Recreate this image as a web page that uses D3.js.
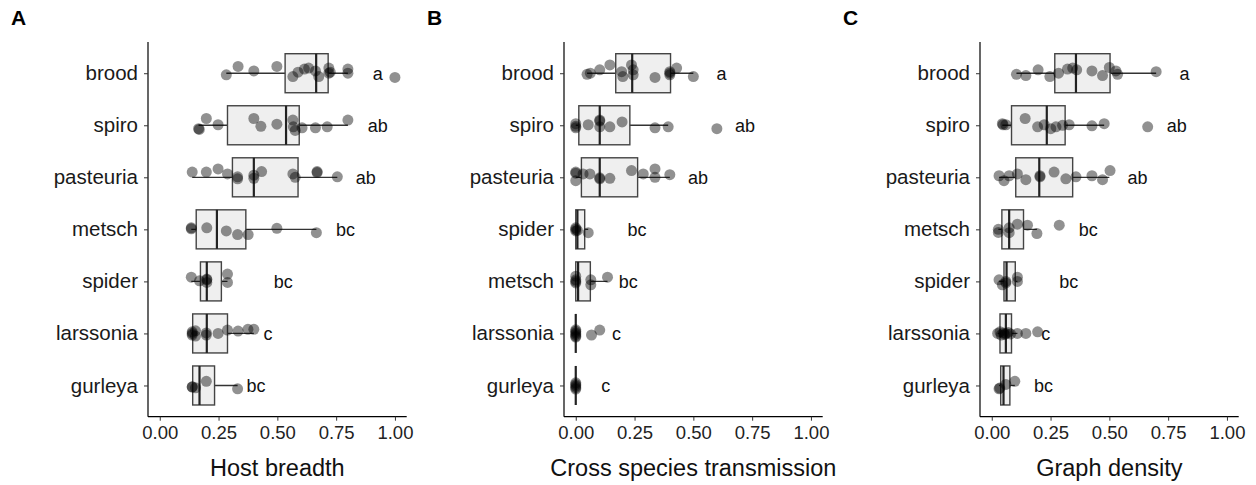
<!DOCTYPE html>
<html>
<head>
<meta charset="utf-8">
<script src="https://cdn.jsdelivr.net/npm/d3@7"></script>
<style>
body{margin:0;background:#fff;}
text{font-family:"Liberation Sans",Arial,Helvetica,sans-serif;}
</style>
</head>
<body>
<script>
var W = 1256, H = 485;

// category order per panel (top to bottom)
var catsA = ["brood","spiro","pasteuria","metsch","spider","larssonia","gurleya"];
var catsB = ["brood","spiro","pasteuria","spider","metsch","larssonia","gurleya"];
var catsC = ["brood","spiro","pasteuria","metsch","spider","larssonia","gurleya"];

var xTicks = [0, 0.25, 0.5, 0.75, 1];

// points: [category, value, vertical jitter (category units)]
var pointsA = [
 ["brood",0.283,0.03],["brood",0.333,-0.13],["brood",0.40,-0.045],["brood",0.498,-0.13],["brood",0.566,0.065],
 ["brood",0.588,-0.02],["brood",0.615,-0.08],["brood",0.633,-0.1],["brood",0.662,-0.045],["brood",0.676,0.065],
 ["brood",0.719,-0.1],["brood",0.719,0],["brood",0.725,-0.02],["brood",0.80,-0.08],["brood",0.80,0],["brood",1.0,0.08],
 ["spiro",0.165,0.065],["spiro",0.168,0.08],["spiro",0.198,-0.13],["spiro",0.248,-0.01],["spiro",0.40,-0.13],
 ["spiro",0.43,0.02],["spiro",0.498,-0.02],["spiro",0.566,-0.1],["spiro",0.568,0.03],["spiro",0.576,0.1],
 ["spiro",0.605,0.05],["spiro",0.662,0.05],["spiro",0.712,0.03],["spiro",0.80,-0.1],
 ["pasteuria",0.138,-0.1],["pasteuria",0.198,-0.1],["pasteuria",0.248,-0.16],["pasteuria",0.288,-0.065],
 ["pasteuria",0.331,0.03],["pasteuria",0.331,-0.01],["pasteuria",0.40,0.02],["pasteuria",0.40,-0.04],
 ["pasteuria",0.433,-0.11],["pasteuria",0.566,-0.065],["pasteuria",0.576,0],["pasteuria",0.669,-0.11],
 ["pasteuria",0.669,-0.09],["pasteuria",0.755,-0.01],
 ["metsch",0.134,-0.03],["metsch",0.134,-0.01],["metsch",0.20,-0.03],["metsch",0.283,0.03],["metsch",0.331,0.1],
 ["metsch",0.376,0.1],["metsch",0.498,-0.02],["metsch",0.666,0.065],
 ["spider",0.134,-0.08],["spider",0.169,-0.01],["spider",0.20,-0.045],["spider",0.20,-0.03],["spider",0.20,0.02],
 ["spider",0.288,-0.14],["spider",0.288,0.02],
 ["larssonia",0.138,-0.03],["larssonia",0.138,0],["larssonia",0.138,0.03],["larssonia",0.152,-0.05],
 ["larssonia",0.152,0.05],["larssonia",0.198,-0.01],["larssonia",0.198,0.03],["larssonia",0.248,0],
 ["larssonia",0.288,-0.065],["larssonia",0.333,-0.045],["larssonia",0.375,-0.08],["larssonia",0.40,-0.08],
 ["gurleya",0.138,0.025],["gurleya",0.138,0.03],["gurleya",0.152,0.045],["gurleya",0.198,-0.08],["gurleya",0.331,0.065]
];
var pointsB = [
 ["brood",0.048,0.02],["brood",0.062,0],["brood",0.102,-0.065],["brood",0.145,-0.16],["brood",0.195,-0.03],
 ["brood",0.20,0.065],["brood",0.237,-0.16],["brood",0.244,0.03],["brood",0.244,-0.065],["brood",0.337,0.08],
 ["brood",0.40,-0.03],["brood",0.40,0],["brood",0.40,0.03],["brood",0.429,-0.1],["brood",0.50,0.065],
 ["spiro",0.0,0.05],["spiro",0.0,0.02],["spiro",0.0,-0.03],["spiro",0.053,-0.01],["spiro",0.102,-0.1],
 ["spiro",0.102,-0.08],["spiro",0.102,0.03],["spiro",0.145,0.03],["spiro",0.197,-0.065],["spiro",0.337,0.05],
 ["spiro",0.393,0.03],["spiro",0.60,0.065],
 ["pasteuria",0.0,-0.1],["pasteuria",0.0,-0.08],["pasteuria",0.0,0.065],["pasteuria",0.031,-0.065],
 ["pasteuria",0.06,-0.065],["pasteuria",0.102,0.03],["pasteuria",0.102,0.01],["pasteuria",0.145,0.02],
 ["pasteuria",0.237,-0.13],["pasteuria",0.287,-0.065],["pasteuria",0.337,-0.16],["pasteuria",0.337,0],
 ["pasteuria",0.40,-0.05],
 ["spider",0.0,-0.03],["spider",0.0,0],["spider",0.0,0.03],["spider",0.007,0.02],["spider",0.053,0.065],
 ["metsch",0.0,-0.1],["metsch",0.0,-0.03],["metsch",0.0,0.03],["metsch",0.0,0],["metsch",0.064,-0.03],
 ["metsch",0.064,0.065],["metsch",0.135,-0.08],
 ["larssonia",0.0,-0.07],["larssonia",0.0,-0.04],["larssonia",0.0,-0.01],["larssonia",0.0,0.02],
 ["larssonia",0.0,0.05],["larssonia",0.0,0.07],["larssonia",0.067,0.03],["larssonia",0.102,-0.065],
 ["gurleya",0.0,-0.05],["gurleya",0.0,-0.02],["gurleya",0.0,0.01],["gurleya",0.0,0.04],["gurleya",0.0,0.07]
];
var pointsC = [
 ["brood",0.105,0.02],["brood",0.145,0.045],["brood",0.197,-0.065],["brood",0.247,0.065],["brood",0.284,0],
 ["brood",0.322,-0.08],["brood",0.344,-0.1],["brood",0.361,-0.065],["brood",0.426,-0.045],["brood",0.471,0.045],
 ["brood",0.50,-0.11],["brood",0.528,-0.045],["brood",0.535,0.02],["brood",0.699,-0.03],
 ["spiro",0.045,-0.03],["spiro",0.048,-0.01],["spiro",0.06,-0.01],["spiro",0.142,-0.13],["spiro",0.195,0.03],
 ["spiro",0.223,-0.01],["spiro",0.251,0.065],["spiro",0.273,0.03],["spiro",0.301,0],["spiro",0.329,-0.01],
 ["spiro",0.426,0.01],["spiro",0.478,-0.03],["spiro",0.663,0.03],
 ["pasteuria",0.031,-0.03],["pasteuria",0.052,0.065],["pasteuria",0.074,-0.03],["pasteuria",0.109,-0.065],
 ["pasteuria",0.145,0.045],["pasteuria",0.205,-0.03],["pasteuria",0.205,-0.01],["pasteuria",0.265,-0.1],
 ["pasteuria",0.315,0.03],["pasteuria",0.358,-0.01],["pasteuria",0.426,-0.03],["pasteuria",0.471,0.045],
 ["pasteuria",0.503,-0.13],
 ["metsch",0.028,0],["metsch",0.028,0.06],["metsch",0.074,-0.03],["metsch",0.074,0.065],["metsch",0.109,-0.1],
 ["metsch",0.152,-0.08],["metsch",0.192,0.08],["metsch",0.287,-0.08],
 ["spider",0.031,-0.03],["spider",0.045,0.065],["spider",0.06,0.03],["spider",0.06,0],["spider",0.109,-0.08],
 ["spider",0.109,0],
 ["larssonia",0.025,0],["larssonia",0.035,-0.03],["larssonia",0.04,0.03],["larssonia",0.05,-0.01],
 ["larssonia",0.055,0.02],["larssonia",0.06,0],["larssonia",0.07,-0.02],["larssonia",0.08,0.01],
 ["larssonia",0.109,0],["larssonia",0.145,0],["larssonia",0.195,-0.03],
 ["gurleya",0.031,0.065],["gurleya",0.034,0.05],["gurleya",0.06,-0.02],["gurleya",0.098,-0.08]
];

// boxes: [category, lower whisker, q1, median, q3, upper whisker]
var boxesA = [
 ["brood",0.283,0.533,0.665,0.716,0.80],["spiro",0.165,0.288,0.537,0.593,0.80],
 ["pasteuria",0.138,0.309,0.40,0.588,0.755],["metsch",0.134,0.155,0.243,0.366,0.666],
 ["spider",0.134,0.173,0.20,0.262,0.288],["larssonia",0.138,0.14,0.20,0.288,0.40],
 ["gurleya",0.138,0.14,0.169,0.233,0.331]
];
var boxesB = [
 ["brood",0.048,0.17,0.24,0.403,0.50],["spiro",0.0,0.013,0.102,0.23,0.393],
 ["pasteuria",0.0,0.024,0.102,0.263,0.40],["spider",0.0,0.0,0.007,0.038,0.053],
 ["metsch",0.0,0.0,0.01,0.062,0.135],["larssonia",0,0,0,0,0],["gurleya",0,0,0,0,0]
];
var boxesC = [
 ["brood",0.105,0.268,0.358,0.503,0.699],["spiro",0.045,0.084,0.234,0.312,0.478],
 ["pasteuria",0.031,0.102,0.202,0.344,0.50],["metsch",0.028,0.043,0.074,0.135,0.192],
 ["spider",0.031,0.052,0.063,0.10,0.109],["larssonia",0.025,0.035,0.06,0.084,0.109],
 ["gurleya",0.031,0.038,0.05,0.077,0.098]
];

// significance letters: [category, letter, x position]
var lettersA = [["brood","a",0.927],["spiro","ab",0.927],["pasteuria","ab",0.876],["metsch","bc",0.79],
 ["spider","bc",0.525],["larssonia","c",0.46],["gurleya","bc",0.409]];
var lettersB = [["brood","a",0.62],["spiro","ab",0.72],["pasteuria","ab",0.52],["spider","bc",0.26],
 ["metsch","bc",0.223],["larssonia","c",0.173],["gurleya","c",0.127]];
var lettersC = [["brood","a",0.82],["spiro","ab",0.787],["pasteuria","ab",0.62],["metsch","bc",0.41],
 ["spider","bc",0.327],["larssonia","c",0.23],["gurleya","bc",0.22]];

var panels = [
 {tag:"A", title:"Host breadth", cats:catsA, pts:pointsA, boxes:boxesA, letters:lettersA},
 {tag:"B", title:"Cross species transmission", cats:catsB, pts:pointsB, boxes:boxesB, letters:lettersB},
 {tag:"C", title:"Graph density", cats:catsC, pts:pointsC, boxes:boxesC, letters:lettersC}
];

var svg = d3.select("body").append("svg")
  .attr("width", W).attr("height", H);

var plotTop = 42, plotBottom = 416.7, axL = 148, axR = 406.7;
var step = (plotBottom - plotTop) / 7.2;
var boxH = step * 0.75;

panels.forEach(function(p, i){
  var g = svg.append("g").attr("transform", "translate(" + (i*416) + ",0)");

  var x = d3.scaleLinear().domain([-0.05, 1.05]).range([axL, axR]);
  var y = d3.scalePoint().domain(p.cats).range([plotTop + 0.6*step, plotBottom - 0.6*step]);

  g.append("text").attr("x", 11).attr("y", 25)
    .attr("font-size", 21).attr("font-weight", "bold").attr("fill", "#000")
    .text(p.tag);

  // boxes
  var bx = g.selectAll("g.box").data(p.boxes).enter().append("g").attr("class","box");
  bx.append("line")
    .attr("x1", function(d){return x(d[1]);}).attr("x2", function(d){return x(d[5]);})
    .attr("y1", function(d){return y(d[0]);}).attr("y2", function(d){return y(d[0]);})
    .attr("stroke", "#333").attr("stroke-width", 1.3);
  bx.append("rect")
    .attr("x", function(d){return x(d[2]);})
    .attr("width", function(d){return Math.max(0, x(d[4]) - x(d[2]));})
    .attr("y", function(d){return y(d[0]) - boxH/2;})
    .attr("height", boxH)
    .attr("fill", "#efefef").attr("stroke", "#444").attr("stroke-width", 1.4);
  bx.append("line")
    .attr("x1", function(d){return x(d[3]);}).attr("x2", function(d){return x(d[3]);})
    .attr("y1", function(d){return y(d[0]) - boxH/2;}).attr("y2", function(d){return y(d[0]) + boxH/2;})
    .attr("stroke", "#222").attr("stroke-width", 2.2);

  // points
  g.selectAll("circle.pt").data(p.pts).enter().append("circle").attr("class","pt")
    .attr("cx", function(d){return x(d[1]);})
    .attr("cy", function(d){return y(d[0]) + d[2]*step;})
    .attr("r", 5.5)
    .attr("fill", "#000").attr("fill-opacity", 0.43);

  // letters
  g.selectAll("text.let").data(p.letters).enter().append("text").attr("class","let")
    .attr("x", function(d){return x(d[2]);})
    .attr("y", function(d){return y(d[0]) + 6.5;})
    .attr("text-anchor", "middle").attr("font-size", 18).attr("fill", "#111")
    .text(function(d){return d[1];});

  // axes
  var xAxis = g.append("g").attr("transform", "translate(0," + plotBottom + ")")
    .call(d3.axisBottom(x).tickValues(xTicks).tickFormat(d3.format(".2f")).tickSizeOuter(0).tickSize(4).tickPadding(5));
  xAxis.select(".domain").attr("d", "M" + axL + ",0H" + axR).attr("stroke", "#000").attr("stroke-width", 1.2);
  xAxis.selectAll(".tick line").attr("stroke", "#333");
  xAxis.selectAll(".tick text").attr("font-size", 18.5).attr("fill", "#222")
    .attr("font-family", "Liberation Sans, Arial, sans-serif");

  var yAxis = g.append("g").attr("transform", "translate(" + axL + ",0)")
    .call(d3.axisLeft(y).tickSizeOuter(0).tickSize(4).tickPadding(6));
  yAxis.select(".domain").attr("d", "M0," + plotTop + "V" + plotBottom).attr("stroke", "#000").attr("stroke-width", 1.2);
  yAxis.selectAll(".tick line").attr("stroke", "#333");
  yAxis.selectAll(".tick text").attr("font-size", 20.5).attr("fill", "#1a1a1a")
    .attr("font-family", "Liberation Sans, Arial, sans-serif");

  g.append("text").attr("x", (axL + axR)/2).attr("y", 476)
    .attr("text-anchor", "middle").attr("font-size", 23.5).attr("fill", "#111")
    .text(p.title);
});
</script>
</body>
</html>
